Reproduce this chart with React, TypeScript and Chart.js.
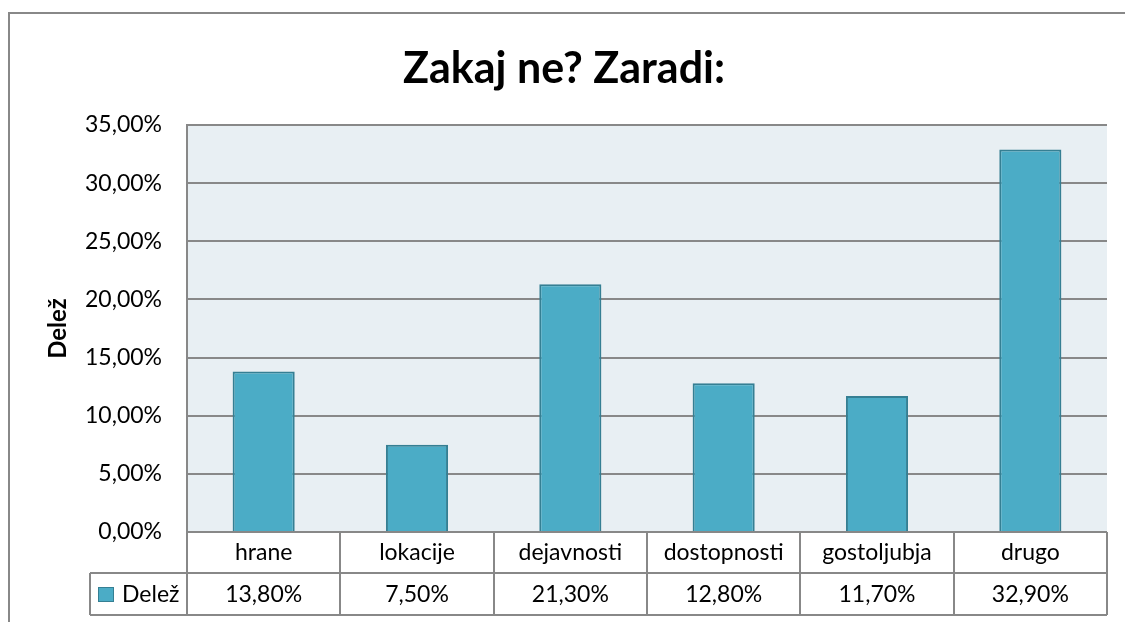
import React, { useEffect, useRef } from "react";
import { Chart, registerables } from "chart.js";

Chart.register(...registerables);

const chartTitle = "Zakaj ne? Zaradi:";
const seriesName = "Delež";
const categories = ["hrane", "lokacije", "dejavnosti", "dostopnosti", "gostoljubja", "drugo"];
const values = [0.138, 0.075, 0.213, 0.128, 0.117, 0.329];
const yMin = 0;
const yMax = 0.35;
const yStep = 0.05;

const FONT = "Lato, 'Open Sans', sans-serif";
const BAR = "#4BACC6";
const BAR_BORDER = "#357F93";
const GRID = "#888888";
const PLOT_BG = "#E8EFF3";

const fmt = (v: number) => (v * 100).toFixed(2).replace(".", ",") + "%";

const framePlugin = {
  id: "frame",
  beforeDraw(chart: any) {
    const { ctx, chartArea } = chart;
    ctx.save();
    ctx.fillStyle = "#ffffff";
    ctx.fillRect(0, 0, chart.width, chart.height);
    ctx.strokeStyle = GRID;
    ctx.lineWidth = 2;
    ctx.beginPath();
    ctx.moveTo(9, chart.height + 5);
    ctx.lineTo(9, 13);
    ctx.lineTo(chart.width + 5, 13);
    ctx.stroke();
    ctx.fillStyle = PLOT_BG;
    ctx.fillRect(chartArea.left, chartArea.top, chartArea.right - chartArea.left, chartArea.bottom - chartArea.top);
    // title
    ctx.fillStyle = "#000000";
    ctx.font = `bold 43px ${FONT}`;
    ctx.textAlign = "center";
    ctx.textBaseline = "middle";
    ctx.fillText(chartTitle, 564, 69);
    ctx.restore();
  },
  afterDraw(chart: any) {
    const { ctx, chartArea } = chart;
    const x = chart.scales.x;
    const n = categories.length;
    const colW = (chartArea.right - chartArea.left) / n;
    const top = chartArea.bottom;
    const mid = top + 41;
    const bot = top + 83;
    const legLeft = 90;
    ctx.save();
    ctx.strokeStyle = GRID;
    ctx.lineWidth = 2;
    ctx.beginPath();
    ctx.moveTo(chartArea.left, top);
    ctx.lineTo(chartArea.right, top);
    ctx.moveTo(legLeft, mid);
    ctx.lineTo(chartArea.right, mid);
    ctx.moveTo(legLeft, bot);
    ctx.lineTo(chartArea.right, bot);
    ctx.moveTo(legLeft, mid);
    ctx.lineTo(legLeft, bot);
    for (let i = 0; i <= n; i++) {
      const xx = Math.round(chartArea.left + i * colW);
      ctx.moveTo(xx, top);
      ctx.lineTo(xx, bot);
    }
    ctx.stroke();
    ctx.fillStyle = "#000000";
    ctx.font = `23px ${FONT}`;
    ctx.textAlign = "center";
    ctx.textBaseline = "middle";
    categories.forEach((c, i) => {
      const cx = x.getPixelForValue(i);
      ctx.fillText(c, cx, (top + mid) / 2);
      ctx.fillText(fmt(values[i]), cx, (mid + bot) / 2 + 1);
    });
    // legend key
    ctx.fillStyle = BAR;
    ctx.fillRect(98, 587, 16, 15);
    ctx.strokeStyle = BAR_BORDER;
    ctx.lineWidth = 1;
    ctx.strokeRect(98.5, 587.5, 15, 14);
    ctx.fillStyle = "#000000";
    ctx.textAlign = "left";
    ctx.fillText(seriesName, 122, (mid + bot) / 2 + 1);
    ctx.restore();
  },
};

export default function App() {
  const ref = useRef<HTMLCanvasElement | null>(null);
  useEffect(() => {
    if (!ref.current) return;
    const chart = new Chart(ref.current, {
      type: "bar",
      data: {
        labels: categories,
        datasets: [
          {
            label: seriesName,
            data: values,
            backgroundColor: BAR,
            borderColor: BAR_BORDER,
            borderWidth: 2,
            categoryPercentage: 1,
            barPercentage: 0.405,
          },
        ],
      },
      options: {
        responsive: false,
        animation: false,
        layout: { padding: { left: 0, top: 125, right: 18, bottom: 90 } },
        plugins: {
          legend: { display: false },
          title: { display: false },
          tooltip: { enabled: false },
        },
        scales: {
          x: {
            type: "category",
            display: false,
            offset: true,
            grid: { display: false },
          },
          y: {
            min: yMin,
            max: yMax,
            afterFit: (s: any) => {
              s.width = 187;
            },
            ticks: {
              stepSize: yStep,
              padding: 25,
              color: "#000000",
              font: { family: FONT, size: 23 },
              callback: (v: any) => fmt(Number(v)),
            },
            grid: { color: GRID, lineWidth: 2, drawTicks: false },
            border: { color: GRID, width: 2 },
            title: {
              display: true,
              text: seriesName,
              color: "#000000",
              font: { family: FONT, size: 24, weight: "bold" },
              padding: { top: 44, bottom: 0 },
            },
          },
        },
      },
      plugins: [framePlugin],
    });
    return () => chart.destroy();
  }, []);
  return (
    <div style={{ position: "fixed", left: 0, top: 0, width: 1125, height: 622, overflow: "hidden", background: "#fff" }}>
      <canvas ref={ref} width={1125} height={622} style={{ display: "block" }} />
    </div>
  );
}
